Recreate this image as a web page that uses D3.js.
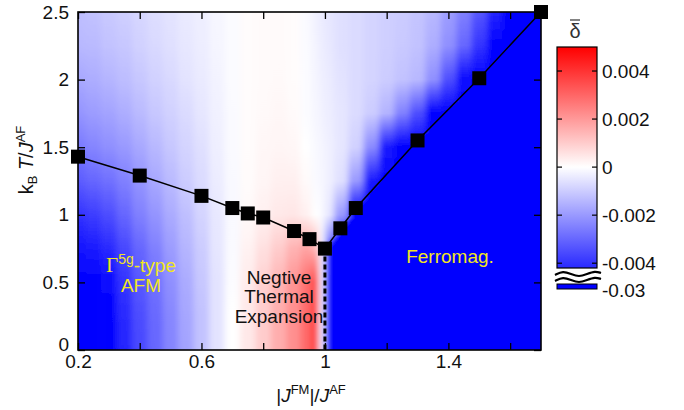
<!DOCTYPE html>
<html>
<head>
<meta charset="utf-8">
<script src="https://cdn.jsdelivr.net/npm/d3@7"></script>
<style>
    body { margin: 0; background: #fff; }
    text { font-family: "Liberation Sans", Arial, sans-serif; }
</style>
</head>
<body>
<div id="chart"></div>
<script>
// transition line: |J^FM|/J^AF vs k_B T / J^AF
const jRatio = [0.2, 0.4, 0.6, 0.7, 0.75, 0.8, 0.9, 0.95, 1.0, 1.05, 1.1, 1.3, 1.5, 1.7];
const tCrit = [1.43, 1.29, 1.14, 1.05, 1.01, 0.98, 0.88, 0.82, 0.75, 0.90, 1.05, 1.55, 2.01, 2.5];

// heat map of delta-bar (units of 1e-3), one column per J value, rows = T
const heatRows = [0, 0.25, 0.5, 0.75, 1, 1.25, 1.5, 1.75, 2, 2.25, 2.5];
const heatCols = [0.2, 0.25, 0.3, 0.35, 0.4, 0.45, 0.5, 0.55, 0.6, 0.65, 0.7, 0.75, 0.8, 0.85,
    0.9, 0.94, 0.97, 0.99, 1.01, 1.05, 1.1, 1.15, 1.2, 1.25, 1.3, 1.35, 1.4, 1.45, 1.5, 1.55,
    1.6, 1.65, 1.7];
const deltaGrid = [
    [-5, -5, -5, -4.6, -4.0, -3.2, -2.6, -2.1, -1.7, -1.4, -1.25],
    [-5, -5, -5, -4.5, -3.8, -3.0, -2.4, -1.95, -1.6, -1.35, -1.2],
    [-5, -5, -4.8, -4.2, -3.5, -2.8, -2.2, -1.8, -1.45, -1.2, -1.05],
    [-4.3, -4.2, -4.0, -3.6, -3.0, -2.5, -2.0, -1.6, -1.3, -1.1, -0.95],
    [-3.6, -3.5, -3.3, -3.0, -2.5, -2.1, -1.7, -1.35, -1.1, -0.9, -0.8],
    [-3.0, -2.95, -2.8, -2.5, -2.1, -1.7, -1.4, -1.1, -0.9, -0.75, -0.65],
    [-2.4, -2.35, -2.2, -1.95, -1.65, -1.35, -1.1, -0.9, -0.75, -0.6, -0.55],
    [-1.8, -1.75, -1.65, -1.45, -1.25, -1.0, -0.85, -0.7, -0.55, -0.48, -0.42],
    [-1.2, -1.2, -1.1, -1.0, -0.85, -0.7, -0.6, -0.5, -0.42, -0.36, -0.32],
    [-0.55, -0.55, -0.55, -0.5, -0.45, -0.38, -0.32, -0.27, -0.23, -0.2, -0.18],
    [0.0, 0.0, -0.05, -0.1, -0.12, -0.12, -0.1, -0.1, -0.08, -0.08, -0.08],
    [0.45, 0.45, 0.4, 0.25, 0.12, 0.08, 0.05, 0.05, 0.05, 0.05, 0.05],
    [1.0, 1.0, 0.9, 0.6, 0.3, 0.2, 0.15, 0.12, 0.1, 0.1, 0.1],
    [1.6, 1.6, 1.45, 1.0, 0.45, 0.3, 0.2, 0.15, 0.12, 0.1, 0.1],
    [2.2, 2.2, 2.1, 1.5, 0.5, 0.3, 0.15, 0.1, 0.05, 0.05, 0.05],
    [2.9, 2.9, 2.8, 1.8, 0.3, 0.1, 0.0, -0.05, -0.05, -0.08, -0.1],
    [3.9, 3.9, 3.7, 1.5, 0.0, -0.1, -0.12, -0.15, -0.2, -0.22, -0.25],
    [-0.3, -0.3, -0.3, -0.2, -0.1, -0.15, -0.2, -0.25, -0.3, -0.35, -0.4],
    [-5, -5, -5, -3.0, -0.5, -0.3, -0.3, -0.35, -0.4, -0.45, -0.5],
    [-5, -5, -5, -5, -2.0, -0.6, -0.5, -0.5, -0.55, -0.6, -0.6],
    [-5, -5, -5, -5, -5, -2.0, -0.9, -0.7, -0.7, -0.7, -0.7],
    [-5, -5, -5, -5, -5, -4.5, -2.3, -1.0, -0.85, -0.85, -0.85],
    [-5, -5, -5, -5, -5, -5, -4.5, -1.5, -1.0, -0.95, -0.95],
    [-5, -5, -5, -5, -5, -5, -5, -2.5, -1.2, -1.05, -1.0],
    [-5, -5, -5, -5, -5, -5, -5, -3.5, -1.4, -1.2, -1.15],
    [-5, -5, -5, -5, -5, -5, -5, -5, -2.2, -1.6, -1.4],
    [-5, -5, -5, -5, -5, -5, -5, -5, -3.5, -2.2, -1.9],
    [-5, -5, -5, -5, -5, -5, -5, -5, -4.8, -3.0, -2.5],
    [-5, -5, -5, -5, -5, -5, -5, -5, -5, -4.0, -3.3],
    [-5, -5, -5, -5, -5, -5, -5, -5, -5, -5, -4.3],
    [-5, -5, -5, -5, -5, -5, -5, -5, -5, -5, -5],
    [-5, -5, -5, -5, -5, -5, -5, -5, -5, -5, -5],
    [-5, -5, -5, -5, -5, -5, -5, -5, -5, -5, -5]
];
const ferroDelta = -30;

const xTicks = [0.2, 0.4, 0.6, 0.8, 1.0, 1.2, 1.4, 1.6];
const xLabelled = [0.2, 0.6, 1.0, 1.4];
const yTicks = [0, 0.5, 1, 1.5, 2, 2.5];
const barTicks = [-0.004, -0.002, 0, 0.002, 0.004];

const W = 684, H = 410;
const m = { left: 78, right: 541, top: 12, bottom: 350 };

const svg = d3.select('#chart').append('svg')
    .attr('width', W)
    .attr('height', H);
svg.append('rect').attr('width', W).attr('height', H).attr('fill', '#fff');

const x = d3.scaleLinear().domain([0.2, 1.7]).range([m.left, m.right]);
const y = d3.scaleLinear().domain([0, 2.5]).range([m.bottom, m.top]);
const color = d3.scaleLinear()
    .domain([-5, 0, 5])
    .range(['#0000ff', '#ffffff', '#ff0000'])
    .clamp(true);

const defs = svg.append('defs');
defs.append('clipPath').attr('id', 'plotclip')
    .append('rect')
    .attr('x', m.left).attr('y', m.top)
    .attr('width', m.right - m.left).attr('height', m.bottom - m.top);
defs.append('filter').attr('id', 'hblur')
    .attr('x', -0.1).attr('y', -0.1).attr('width', 1.2).attr('height', 1.2)
    .append('feGaussianBlur').attr('stdDeviation', '3 0');

// heat map columns, each a vertical gradient through its row values
const tMin = heatRows[0], tMax = heatRows[heatRows.length - 1];
const heat = svg.append('g').attr('clip-path', 'url(#plotclip)')
    .append('g').attr('filter', 'url(#hblur)');
heatCols.forEach((c, i) => {
    const g = defs.append('linearGradient')
        .attr('id', 'col' + i)
        .attr('gradientUnits', 'userSpaceOnUse')
        .attr('x1', 0).attr('x2', 0)
        .attr('y1', y(tMin)).attr('y2', y(tMax));
    deltaGrid[i].forEach((v, k) => {
        g.append('stop')
            .attr('offset', (heatRows[k] - tMin) / (tMax - tMin))
            .attr('stop-color', color(v));
    });
    const first = i === 0, last = i === heatCols.length - 1;
    const lo = first ? x.domain()[0] : (heatCols[i - 1] + c) / 2;
    const hi = last ? x.domain()[1] : (heatCols[i + 1] + c) / 2;
    const pad0 = first ? 15 : 0, pad1 = last ? 15 : 0.6;
    heat.append('rect')
        .attr('x', x(lo) - pad0)
        .attr('y', m.top)
        .attr('width', x(hi) - x(lo) + pad0 + pad1)
        .attr('height', m.bottom - m.top)
        .attr('fill', 'url(#col' + i + ')');
});

// ferromagnetic phase below the transition line
const pts = jRatio.map((j, i) => ({ j: j, t: tCrit[i] }));
const ferro = pts.filter(d => d.j >= 1.0);
heat.append('path')
    .datum(ferro)
    .attr('fill', color(ferroDelta))
    .attr('d', d3.area().x(d => x(d.j)).y0(y(0)).y1(d => y(d.t)));

// text annotations
const yellow = '#f2e61e';
const afm = svg.append('text').attr('x', 141).attr('y', 272)
    .attr('text-anchor', 'middle').attr('font-size', 19).attr('fill', yellow);
afm.append('tspan').attr('font-family', '"Liberation Serif", "Times New Roman", serif').attr('font-size', 21).text('Γ');
afm.append('tspan').attr('font-size', 14).attr('dy', -8).text('5g');
afm.append('tspan').attr('dy', 8).text('-type');
svg.append('text').attr('x', 141).attr('y', 292)
    .attr('text-anchor', 'middle').attr('font-size', 19).attr('fill', yellow).text('AFM');
svg.append('text').attr('x', 450).attr('y', 263)
    .attr('text-anchor', 'middle').attr('font-size', 19).attr('fill', yellow).text('Ferromag.');
['Negtive', 'Thermal', 'Expansion'].forEach((s, i) => {
    svg.append('text').attr('x', 279).attr('y', 284 + i * 19.3)
        .attr('text-anchor', 'middle').attr('font-size', 19).attr('fill', '#111').text(s);
});

// dashed line from the lowest point down to T = 0
const minPt = pts[d3.minIndex(pts, d => d.t)];
svg.append('path')
    .datum([minPt, { j: minPt.j, t: 0 }])
    .attr('fill', 'none').attr('stroke', '#000')
    .attr('stroke-width', 3).attr('stroke-dasharray', '5,3')
    .attr('d', d3.line().x(d => x(d.j)).y(d => y(d.t)));

// transition line with square markers
svg.append('path')
    .datum(pts)
    .attr('fill', 'none').attr('stroke', '#000').attr('stroke-width', 1.5)
    .attr('d', d3.line().x(d => x(d.j)).y(d => y(d.t)));
svg.append('g').selectAll('rect')
    .data(pts)
    .join('rect')
    .attr('x', d => x(d.j) - 7).attr('y', d => y(d.t) - 7)
    .attr('width', 14).attr('height', 14)
    .attr('fill', '#000');

// axes with inward ticks
const fmt = d3.format('');
svg.append('g').attr('transform', `translate(0,${m.bottom})`)
    .call(d3.axisBottom(x).tickValues(xTicks).tickSize(-7).tickPadding(5)
        .tickFormat(d => xLabelled.some(v => Math.abs(v - d) < 1e-9) ? fmt(d) : ''));
svg.append('g').attr('transform', `translate(0,${m.top})`)
    .call(d3.axisTop(x).tickValues(xTicks).tickSize(-7).tickFormat(''));
const gy = svg.append('g').attr('transform', `translate(${m.left},0)`)
    .call(d3.axisLeft(y).tickValues(yTicks).tickSize(-7).tickPadding(9).tickFormat(fmt));
svg.append('g').attr('transform', `translate(${m.right},0)`)
    .call(d3.axisRight(y).tickValues(yTicks).tickSize(-7).tickFormat(''));
svg.selectAll('.domain').remove();
svg.selectAll('.tick line').attr('stroke', '#000').attr('stroke-width', 1.3);
svg.selectAll('.tick text').attr('font-size', 19).attr('fill', '#111')
    .attr('font-family', '"Liberation Sans", Arial, sans-serif');
gy.selectAll('.tick').filter(d => d === 0).select('text').attr('dy', '0.05em');

svg.append('rect')
    .attr('x', m.left).attr('y', m.top)
    .attr('width', m.right - m.left).attr('height', m.bottom - m.top)
    .attr('fill', 'none').attr('stroke', '#000').attr('stroke-width', 1.6);

// axis titles
const xt = svg.append('text').attr('x', 311).attr('y', 402)
    .attr('text-anchor', 'middle').attr('font-size', 19).attr('fill', '#111');
xt.append('tspan').text('|');
xt.append('tspan').attr('font-style', 'italic').text('J');
xt.append('tspan').attr('font-size', 13).attr('dy', -8).text('FM');
xt.append('tspan').attr('dy', 8).text('|/');
xt.append('tspan').attr('font-style', 'italic').text('J');
xt.append('tspan').attr('font-size', 13).attr('dy', -8).text('AF');

const yt = svg.append('text').attr('transform', 'translate(33,160) rotate(-90)')
    .attr('text-anchor', 'middle').attr('font-size', 20).attr('fill', '#111');
yt.append('tspan').text('k');
yt.append('tspan').attr('font-size', 13).attr('dy', 4).text('B');
yt.append('tspan').attr('dy', -4).text(' ');
yt.append('tspan').attr('font-style', 'italic').text('T');
yt.append('tspan').text('/');
yt.append('tspan').attr('font-style', 'italic').text('J');
yt.append('tspan').attr('font-size', 13).attr('dy', -8).text('AF');

// colour bar
const cb = { left: 557, right: 597, top: 47, bottom: 268 };
const cy = d3.scaleLinear().domain([-0.0042, 0.005]).range([cb.bottom, cb.top]);
const cg = defs.append('linearGradient').attr('id', 'cbar')
    .attr('gradientUnits', 'userSpaceOnUse')
    .attr('x1', 0).attr('x2', 0).attr('y1', cb.bottom).attr('y2', cb.top);
[-0.0042, 0, 0.005].forEach(v => {
    cg.append('stop')
        .attr('offset', (cb.bottom - cy(v)) / (cb.bottom - cb.top))
        .attr('stop-color', color(v * 1000));
});
svg.append('rect')
    .attr('x', cb.left).attr('y', cb.top)
    .attr('width', cb.right - cb.left).attr('height', cb.bottom - cb.top)
    .attr('fill', 'url(#cbar)').attr('stroke', '#000').attr('stroke-width', 1.2);
const cbt = svg.append('g');
barTicks.forEach(v => {
    cbt.append('line').attr('x1', cb.left).attr('x2', cb.left + 5)
        .attr('y1', cy(v)).attr('y2', cy(v)).attr('stroke', '#000').attr('stroke-width', 1.2);
    cbt.append('line').attr('x1', cb.right - 5).attr('x2', cb.right)
        .attr('y1', cy(v)).attr('y2', cy(v)).attr('stroke', '#000').attr('stroke-width', 1.2);
    cbt.append('text').attr('x', cb.right + 5).attr('y', cy(v)).attr('dy', '0.35em')
        .attr('font-size', 19).attr('fill', '#111')
        .text(v === 0 ? '0' : v.toFixed(3));
});

// axis break and the ferromagnetic value
const wave = d3.line().curve(d3.curveBasis);
[274, 280].forEach(w => {
    svg.append('path')
        .attr('d', wave([[555, w + 1], [563, w - 3], [571, w], [579, w + 3], [587, w], [595, w - 3], [601, w - 1]]))
        .attr('fill', 'none').attr('stroke', '#000').attr('stroke-width', 2.2);
});
svg.append('rect')
    .attr('x', cb.left).attr('y', 284)
    .attr('width', cb.right - cb.left).attr('height', 5)
    .attr('fill', color(ferroDelta)).attr('stroke', '#000').attr('stroke-width', 1);
svg.append('text').attr('x', cb.right + 5).attr('y', 290).attr('dy', '0.35em')
    .attr('font-size', 19).attr('fill', '#111').text((ferroDelta / 1000).toFixed(2));

// colour bar title: delta with a bar
svg.append('text').attr('x', 575).attr('y', 38)
    .attr('text-anchor', 'middle').attr('font-size', 20).attr('fill', '#333')
    .attr('font-family', '"DejaVu Serif", "Liberation Serif", serif').text('δ');
svg.append('line').attr('x1', 570).attr('x2', 580).attr('y1', 20).attr('y2', 20)
    .attr('stroke', '#333').attr('stroke-width', 1.2);
</script>
</body>
</html>
